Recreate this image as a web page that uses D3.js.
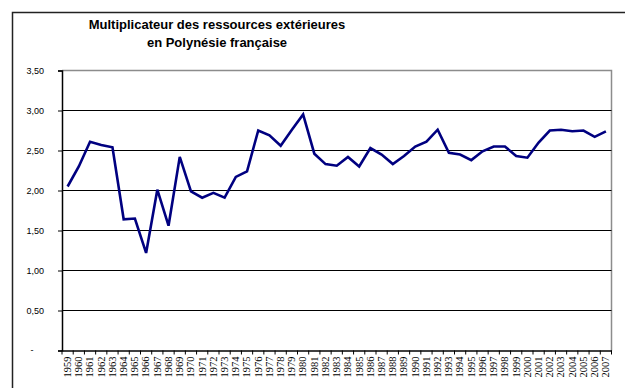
<!DOCTYPE html>
<html>
<head>
<meta charset="utf-8">
<script src="https://cdn.jsdelivr.net/npm/d3@7"></script>
<style>
  html, body { margin: 0; padding: 0; background: #fff; }
  svg { display: block; }
</style>
</head>
<body>
<svg id="chart" width="625" height="388"></svg>
<script>
// Years of the series
const years = [
  1959, 1960, 1961, 1962, 1963, 1964, 1965, 1966, 1967, 1968,
  1969, 1970, 1971, 1972, 1973, 1974, 1975, 1976, 1977, 1978,
  1979, 1980, 1981, 1982, 1983, 1984, 1985, 1986, 1987, 1988,
  1989, 1990, 1991, 1992, 1993, 1994, 1995, 1996, 1997, 1998,
  1999, 2000, 2001, 2002, 2003, 2004, 2005, 2006, 2007
];

// Multiplier of external resources, one value per year
const multiplier = [
  2.05, 2.30, 2.61, 2.57, 2.54, 1.64, 1.65, 1.22, 2.01, 1.56,
  2.42, 1.99, 1.91, 1.97, 1.91, 2.17, 2.24, 2.75, 2.69, 2.56,
  2.76, 2.95, 2.46, 2.33, 2.31, 2.42, 2.30, 2.53, 2.45, 2.33,
  2.43, 2.55, 2.61, 2.76, 2.47, 2.45, 2.38, 2.49, 2.55, 2.55,
  2.43, 2.41, 2.60, 2.75, 2.76, 2.74, 2.75, 2.67, 2.74
];

// Y-axis ticks
const yTicks = [0, 0.5, 1.0, 1.5, 2.0, 2.5, 3.0, 3.5];

const titleLines = ["Multiplicateur des ressources extérieures", "en Polynésie française"];

const svg = d3.select("#chart");

const plot = { left: 62, right: 611.5, top: 70.5, bottom: 350.5 };

const x = d3.scaleBand()
  .domain(years)
  .range([plot.left, plot.right])
  .paddingInner(0)
  .paddingOuter(0);

const y = d3.scaleLinear()
  .domain([0, 3.5])
  .range([plot.bottom, plot.top]);

// Outer chart frame
svg.append("path")
  .attr("d", "M12.5,388 L12.5,12.5 L625,12.5")
  .attr("fill", "none")
  .attr("stroke", "#222")
  .attr("stroke-width", 1.5);

// Title, two centred lines
svg.append("g")
  .selectAll("text")
  .data(titleLines)
  .join("text")
  .attr("x", 217)
  .attr("y", (d, i) => 29 + i * 18)
  .attr("text-anchor", "middle")
  .attr("font-family", "Liberation Sans, Arial, sans-serif")
  .attr("font-weight", "bold")
  .attr("font-size", "13px")
  .attr("fill", "#000")
  .text(d => d);

// Plot area border (top and right)
svg.append("path")
  .attr("d", `M${plot.left},${plot.top} L${plot.right},${plot.top} L${plot.right},${plot.bottom}`)
  .attr("fill", "none")
  .attr("stroke", "#8c8c8c")
  .attr("stroke-width", 1.5);

// Horizontal gridlines
svg.append("g")
  .selectAll("line")
  .data(yTicks.filter(d => d > 0 && d < 3.5))
  .join("line")
  .attr("x1", plot.left).attr("x2", plot.right)
  .attr("y1", d => y(d)).attr("y2", d => y(d))
  .attr("stroke", "#000")
  .attr("stroke-width", 1);

// Y axis
const yAxis = d3.axisLeft(y)
  .tickValues(yTicks)
  .tickSize(4)
  .tickPadding(14)
  .tickFormat(d => d === 0 ? "" : d3.format(".2f")(d).replace(".", ","));

const gy = svg.append("g")
  .attr("transform", `translate(${plot.left},0)`)
  .call(yAxis);
gy.select(".domain").attr("stroke", "#000").attr("stroke-width", 1.5);
gy.selectAll(".tick line").attr("stroke", "#000");
gy.selectAll(".tick text")
  .attr("font-family", "Liberation Sans, Arial, sans-serif")
  .attr("font-size", "9px")
  .attr("fill", "#000");
// Zero shown as a dash
svg.append("text")
  .attr("x", 32).attr("y", y(0))
  .attr("dy", "0.32em")
  .attr("text-anchor", "middle")
  .attr("font-family", "Liberation Sans, Arial, sans-serif")
  .attr("font-size", "9px")
  .text("-");

// X axis
const xAxis = d3.axisBottom(x).tickSize(0).tickPadding(0);
const gx = svg.append("g")
  .attr("transform", `translate(0,${plot.bottom})`)
  .call(xAxis);
gx.select(".domain").attr("stroke", "#000").attr("stroke-width", 1.5);
gx.selectAll(".tick text")
  .attr("font-family", "Liberation Serif, Times New Roman, serif")
  .attr("font-size", "10.5px")
  .attr("fill", "#000")
  .attr("text-anchor", "end")
  .attr("transform", "translate(0,6) rotate(-90)")
  .attr("dx", 0)
  .attr("dy", "0.32em")
  .attr("y", 0)
  .attr("x", 0);

// Category boundary tick marks
const bounds = years.map(d => x(d)).concat([plot.right]);
svg.append("g")
  .selectAll("line")
  .data(bounds)
  .join("line")
  .attr("x1", d => d).attr("x2", d => d)
  .attr("y1", plot.bottom).attr("y2", plot.bottom + 4)
  .attr("stroke", "#000")
  .attr("stroke-width", 1);

// Series line
const line = d3.line()
  .x((d, i) => x(years[i]) + x.bandwidth() / 2)
  .y(d => y(d));

svg.append("path")
  .datum(multiplier)
  .attr("d", line)
  .attr("fill", "none")
  .attr("stroke", "#000080")
  .attr("stroke-width", 2.6)
  .attr("stroke-linejoin", "miter");
</script>
</body>
</html>
